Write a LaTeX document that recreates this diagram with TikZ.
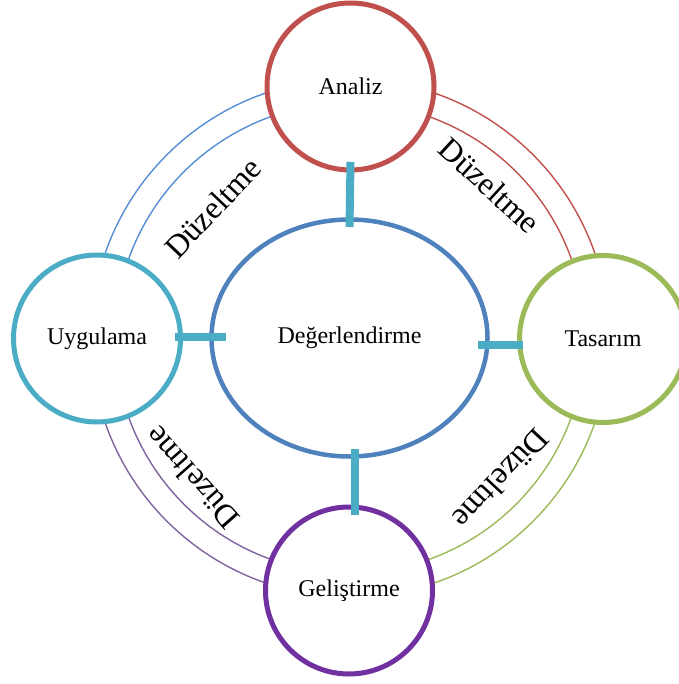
\documentclass[tikz,border=0pt]{standalone}
\usepackage{fontspec}
\setmainfont{Liberation Serif}
\usetikzlibrary{positioning,calc,shapes.geometric}
\definecolor{myred}{HTML}{C0504D}
\definecolor{mygreen}{HTML}{9BBB59}
\definecolor{myteal}{HTML}{4BACC6}
\definecolor{mypurple}{HTML}{7030A0}
\definecolor{mylilac}{HTML}{8064A2}
\definecolor{myblue}{HTML}{4F81BD}
\definecolor{mysky}{HTML}{558ED5}
\tikzset{
  my phase/.style={
    circle,
    draw=#1,
    line width=5pt,
    fill=white,
    minimum size=167pt,
    inner sep=0pt,
    outer sep=0pt,
    font=\fontsize{24}{28}\selectfont
  },
  my centre/.style={
    ellipse,
    draw=myblue,
    line width=4.5pt,
    fill=white,
    minimum width=276pt,
    minimum height=237pt,
    inner sep=0pt,
    outer sep=0pt,
    font=\fontsize{24}{28}\selectfont
  },
  my bar/.style={
    draw=myteal,
    line width=8pt
  },
  my loop/.style={
    draw=#1,
    line width=1.4pt
  },
  my fix/.style={
    font=\fontsize{32}{36}\selectfont,
    inner sep=0pt
  }
}

\begin{document}
\begin{tikzpicture}[x=1pt,y=1pt]
\useasboundingbox (0,0) rectangle (678,-684);
\coordinate (c) at (350,-338);
% Outer double arcs
\foreach \r in {235,259} {
  \draw[my loop=mysky]   ([shift={(90:\r)}]c)  arc[start angle=90,end angle=180,radius=\r];
  \draw[my loop=myred]   ([shift={(0:\r)}]c)   arc[start angle=0,end angle=90,radius=\r];
  \draw[my loop=mygreen] ([shift={(270:\r)}]c) arc[start angle=270,end angle=360,radius=\r];
  \draw[my loop=mylilac] ([shift={(180:\r)}]c) arc[start angle=180,end angle=270,radius=\r];
}
% Arc labels
\node[my fix,rotate=46.5]  (fix1) at ([shift={(136.5:189)}]c) {Düzeltme};
\node[my fix,rotate=-42.5] (fix2) at ([shift={(47.5:207)}]c)  {Düzeltme};
\node[my fix,rotate=-133]  (fix3) at ([shift={(317:207)}]c)   {Düzeltme};
\node[my fix,rotate=131.5] (fix4) at ([shift={(221.5:211)}]c) {Düzeltme};
% Centre and phases
\node[my centre]        (deg) at (349.5,-338) {Değerlendirme};
\node[my phase=myred]    (ana) at (350.5,-86.5) {Analiz};
\node[my phase=mygreen]  (tas) at (603,-339)    {Tasarım};
\node[my phase=mypurple] (gel) at (349,-590.5)  {Geliştirme};
\node[my phase=myteal]   (uyg) at (97,-338.5)   {Uygulama};
% Bars
\draw[my bar] ([yshift=-7.5pt]deg.north) -- ([yshift=8pt]ana.south);
\draw[my bar] ([xshift=-9.5pt,yshift=-7pt]deg.east) -- ([xshift=3.5pt,yshift=-6pt]tas.west);
\draw[my bar] ([xshift=5.5pt,yshift=7.5pt]deg.south) -- ([xshift=6pt,yshift=-7.5pt]gel.north);
\draw[my bar] ([xshift=14.5pt,yshift=1pt]deg.west) -- ([xshift=-5.5pt,yshift=1.5pt]uyg.east);
\end{tikzpicture}
\end{document}
